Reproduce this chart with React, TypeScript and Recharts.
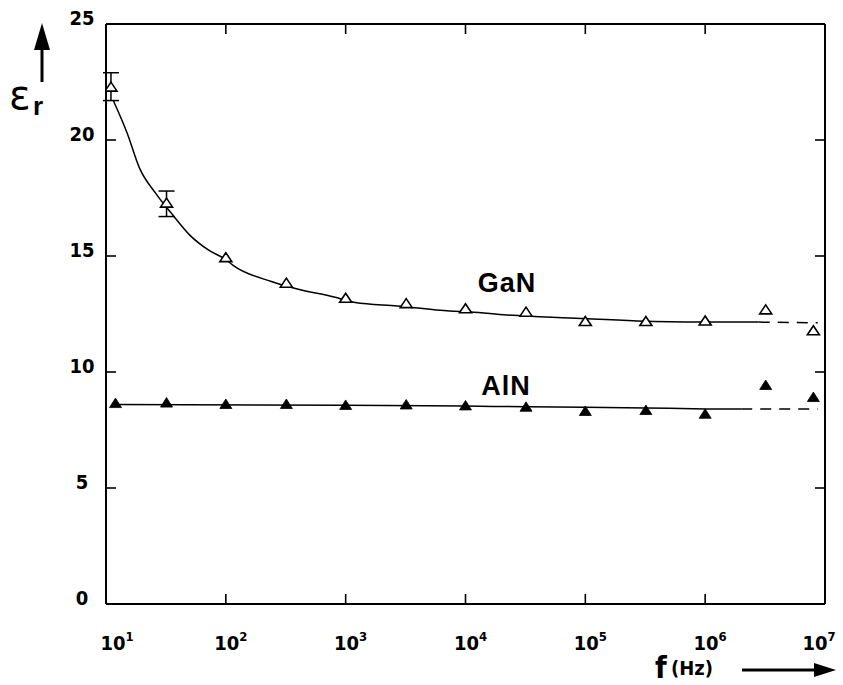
import React from "react";
import { ComposedChart, Line, Scatter, XAxis, YAxis, ErrorBar } from "recharts";

// frequency axis (Hz, log) and permittivity axis
const freqTicks = [10, 100, 1000, 1e4, 1e5, 1e6, 1e7];
const epsTicks = [0, 5, 10, 15, 20, 25];

// measured points
const ganFreq = [11, 32, 100, 320, 1000, 3200, 1e4, 3.2e4, 1e5, 3.2e5, 1e6, 3.2e6, 8e6];
const ganEps = [22.3, 17.3, 14.95, 13.85, 13.2, 12.97, 12.75, 12.6, 12.2, 12.2, 12.22, 12.7, 11.8];
const alnFreq = [12, 32, 100, 320, 1000, 3200, 1e4, 3.2e4, 1e5, 3.2e5, 1e6, 3.2e6, 8e6];
const alnEps = [8.66, 8.68, 8.62, 8.62, 8.58, 8.6, 8.56, 8.5, 8.32, 8.36, 8.2, 9.44, 8.92];

// error bars on the first two GaN points
const ganErrFreq = [11, 32];
const ganErrEps = [22.3, 17.3];
const ganErrRange = [[0.6, 0.6], [0.6, 0.5]];

// hand-drawn fit curves
const ganFitFreq = [11.5, 15, 19, 26, 35, 50, 72, 100, 115, 240, 380, 800, 1200, 2700, 7400, 1.1e4, 2.2e4, 3.5e4, 7.4e4, 1.15e5, 2.7e5, 8.7e5, 2.8e6];
const ganFitEps = [21.7, 20.3, 18.8, 17.7, 16.85, 15.9, 15.25, 14.85, 14.6, 13.9, 13.6, 13.23, 13.0, 12.85, 12.63, 12.59, 12.46, 12.4, 12.33, 12.28, 12.2, 12.15, 12.15];
const ganDashFreq = [2.8e6, 8.7e6];
const ganDashEps = [12.15, 12.12];

const alnFitFreq = [12, 1000, 1e4, 3.2e4, 1e5, 3.2e5, 1e6, 2e6];
const alnFitEps = [8.6, 8.57, 8.53, 8.5, 8.48, 8.45, 8.41, 8.4];
const alnDashFreq = [2e6, 8.7e6];
const alnDashEps = [8.4, 8.4];

const pts = (fs: number[], vs: number[]) => fs.map((f, i) => ({ f, v: vs[i] }));
const ganErrData = ganErrFreq.map((f, i) => ({ f, v: ganErrEps[i], err: ganErrRange[i] }));

const TICK_FONT = "'Liberation Sans Narrow', 'DejaVu Sans Condensed', 'Liberation Sans', sans-serif";
const LABEL_FONT = "'Liberation Sans', Arial, sans-serif";

function BottomTick({ x, y, payload }: any) {
  const v = payload.value;
  const exp = Math.round(Math.log10(v));
  const inner = v > 10 && v < 1e7;
  const dx = v === 10 ? 11 : v === 1e7 ? -6 : 5;
  return (
    <g>
      {inner && <line x1={x} y1={y} x2={x} y2={y - 10} stroke="#000" strokeWidth={1.6} />}
      <text x={x + dx} y={y + 46} textAnchor="middle" fontFamily={TICK_FONT} fontWeight="bold" fontSize={20} fill="#000">
        10<tspan dy={-9} fontSize={13}>{exp}</tspan>
      </text>
    </g>
  );
}

function TopTick({ x, y, payload }: any) {
  const v = payload.value;
  if (v <= 10 || v >= 1e7) return <g />;
  return <line x1={x} y1={y} x2={x} y2={y + 10} stroke="#000" strokeWidth={1.6} />;
}

function LeftTick({ x, y, payload }: any) {
  const v = payload.value;
  const inner = v > 0 && v < 25;
  return (
    <g>
      {inner && <line x1={x} y1={y} x2={x + 10} y2={y} stroke="#000" strokeWidth={1.6} />}
      <text x={x - 24} y={y + 1} textAnchor="middle" fontFamily={TICK_FONT} fontWeight="bold" fontSize={20} fill="#000">
        {v}
      </text>
    </g>
  );
}

function RightTick({ x, y, payload }: any) {
  const v = payload.value;
  if (v <= 0 || v >= 25) return <g />;
  return <line x1={x} y1={y} x2={x - 10} y2={y} stroke="#000" strokeWidth={1.6} />;
}

function OpenTriangle({ cx, cy }: any) {
  return (
    <path
      d={`M${cx},${cy - 4.5} L${cx + 6},${cy + 4.5} L${cx - 6},${cy + 4.5} Z`}
      fill="#fff"
      stroke="#000"
      strokeWidth={1.6}
    />
  );
}

function FilledTriangle({ cx, cy }: any) {
  return <path d={`M${cx},${cy - 5} L${cx + 6},${cy + 4.5} L${cx - 6},${cy + 4.5} Z`} fill="#000" stroke="#000" strokeWidth={0.8} />;
}

const axisLine = { stroke: "#000", strokeWidth: 2 };

export default function App() {
  return (
    <div style={{ position: "absolute", left: 0, top: 0, width: 843, height: 685, background: "#fff" }}>
      <ComposedChart width={843} height={685} margin={{ top: 23, right: 17, bottom: 80, left: 105 }}>
        <XAxis
          xAxisId="b"
          dataKey="f"
          type="number"
          scale="log"
          domain={[10, 1e7]}
          ticks={freqTicks}
          allowDataOverflow
          height={1}
          axisLine={axisLine}
          tickLine={false}
          tickSize={0}
          tickMargin={0}
          tick={<BottomTick />}
          interval={0}
        />
        <XAxis
          xAxisId="t"
          orientation="top"
          dataKey="f"
          type="number"
          scale="log"
          domain={[10, 1e7]}
          ticks={freqTicks}
          allowDataOverflow
          height={1}
          axisLine={axisLine}
          tickLine={false}
          tickSize={0}
          tickMargin={0}
          tick={<TopTick />}
          interval={0}
        />
        <YAxis
          yAxisId="l"
          type="number"
          domain={[0, 25]}
          ticks={epsTicks}
          allowDataOverflow
          width={1}
          axisLine={axisLine}
          tickLine={false}
          tickSize={0}
          tickMargin={0}
          tick={<LeftTick />}
          interval={0}
        />
        <YAxis
          yAxisId="r"
          orientation="right"
          type="number"
          domain={[0, 25]}
          ticks={epsTicks}
          allowDataOverflow
          width={1}
          axisLine={axisLine}
          tickLine={false}
          tickSize={0}
          tickMargin={0}
          tick={<RightTick />}
          interval={0}
        />

        <Line xAxisId="b" yAxisId="l" data={pts(ganFitFreq, ganFitEps)} dataKey="v" type="monotone" stroke="#000" strokeWidth={1.5} dot={false} isAnimationActive={false} />
        <Line xAxisId="b" yAxisId="l" data={pts(ganDashFreq, ganDashEps)} dataKey="v" type="linear" stroke="#000" strokeWidth={1.5} strokeDasharray="11 8" dot={false} isAnimationActive={false} />
        <Line xAxisId="b" yAxisId="l" data={pts(alnFitFreq, alnFitEps)} dataKey="v" type="monotone" stroke="#000" strokeWidth={1.5} dot={false} isAnimationActive={false} />
        <Line xAxisId="b" yAxisId="l" data={pts(alnDashFreq, alnDashEps)} dataKey="v" type="linear" stroke="#000" strokeWidth={1.5} strokeDasharray="11 8" dot={false} isAnimationActive={false} />

        <Scatter xAxisId="b" yAxisId="l" data={pts(ganFreq, ganEps)} dataKey="v" shape={<OpenTriangle />} isAnimationActive={false} />
        <Scatter xAxisId="b" yAxisId="l" data={pts(alnFreq, alnEps)} dataKey="v" shape={<FilledTriangle />} isAnimationActive={false} />
        <Scatter xAxisId="b" yAxisId="l" data={ganErrData} dataKey="v" shape={() => <g />} isAnimationActive={false}>
          <ErrorBar dataKey="err" direction="y" width={8} stroke="#000" strokeWidth={1.5} isAnimationActive={false} />
        </Scatter>

        {/* series names */}
        <text x={507} y={292} textAnchor="middle" fontFamily={LABEL_FONT} fontWeight="bold" fontSize={27} letterSpacing={1} fill="#000">GaN</text>
        <text x={506} y={395} textAnchor="middle" fontFamily={LABEL_FONT} fontWeight="bold" fontSize={27} letterSpacing={1} fill="#000">AlN</text>

        {/* y label with arrow */}
        <line x1={42} y1={82} x2={42} y2={46} stroke="#000" strokeWidth={3} />
        <path d="M42,23 L50,50 L34,50 Z" fill="#000" />
        <text x={9} y={109} fontFamily="'DejaVu Sans', sans-serif" fontSize={40} fill="#000">ε</text>
        <text x={33} y={115} fontFamily={LABEL_FONT} fontWeight="bold" fontSize={26} fill="#000">r</text>

        {/* x label with arrow */}
        <text x={655} y={678} fontFamily={TICK_FONT} fontWeight="bold" fontSize={30} fill="#000">f</text>
        <text x={671} y={675} fontFamily={TICK_FONT} fontWeight="bold" fontSize={20} fill="#000">(Hz)</text>
        <line x1={742} y1={670} x2={818} y2={670} stroke="#000" strokeWidth={3} />
        <path d="M836,670 L814,663 L814,677 Z" fill="#000" />
      </ComposedChart>
    </div>
  );
}
